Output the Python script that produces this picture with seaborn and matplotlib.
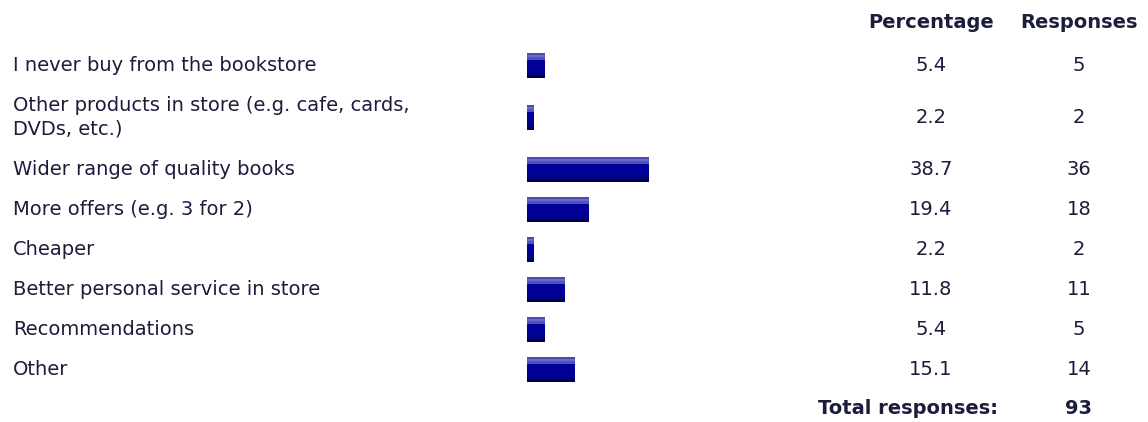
import numpy as np
import pandas as pd
import matplotlib
matplotlib.use("Agg")
import matplotlib.pyplot as plt
from matplotlib.colors import to_rgb
import seaborn as sns

# survey answers
answers = [
    "I never buy from the bookstore",
    "Other products in store (e.g. cafe, cards,\nDVDs, etc.)",
    "Wider range of quality books",
    "More offers (e.g. 3 for 2)",
    "Cheaper",
    "Better personal service in store",
    "Recommendations",
    "Other",
]
percentage = [5.4, 2.2, 38.7, 19.4, 2.2, 11.8, 5.4, 15.1]
responses = [5, 2, 36, 18, 2, 11, 5, 14]
total_responses = 93

W, H = 1148, 422
txt_col = "#1c1c3c"
bar_col = "#000099"

sns.set_style("white")
plt.rcParams["font.family"] = ["DejaVu Sans"]

# row layout (pixels): single-line rows 40 px, two-line rows 64 px
rows_h = [40 + 24 * a.count("\n") for a in answers]
tops = 45.5 + np.concatenate([[0], np.cumsum(rows_h)[:-1]])
centers = tops + np.array(rows_h) / 2

df = pd.DataFrame({"answer": answers, "pct": percentage, "resp": responses, "row": centers})

fig = plt.figure(figsize=(W / 100, H / 100), dpi=100)
fig.patch.set_facecolor("white")

# text layer in pixel coordinates
tx = fig.add_axes([0, 0, 1, 1])
tx.set_xlim(0, W)
tx.set_ylim(H, 0)
tx.axis("off")

# bar layer: 0..100 % spans 315 px starting at x=527
bx = fig.add_axes([527 / W, 0, 315 / W, 1])
sns.barplot(data=df, x="pct", y="row", orient="h", native_scale=True,
            width=25 / 40, color=bar_col, saturation=1, ax=bx)
bx.set_xlim(0, 100)
bx.set_ylim(H, 0)
bx.axis("off")

# glossy gradient like the original bars
shade = ["#4a4ab4"] * 2 + ["#6a6acc"] * 2 + ["#5252b8"] * 3 + [bar_col] * 12 + \
        ["#000088", "#00007a", "#00006c", "#000060", "#000055", "#00004a"]
grad = np.array([to_rgb(c) for c in shade])[:, None, :]
for p in bx.patches:
    bb = p.get_bbox()
    im = bx.imshow(grad, extent=[bb.x0, bb.x1, bb.y1, bb.y0], aspect="auto",
                   interpolation="nearest", zorder=p.get_zorder() + 0.1)
    im.set_clip_path(p)
bx.set_xlim(0, 100)
bx.set_ylim(H, 0)

fs = 14
for _, r in df.iterrows():
    tx.text(13, r["row"], r["answer"], ha="left", va="center", fontsize=fs,
            color=txt_col, linespacing=1.3)
    tx.text(931, r["row"], f"{r['pct']:.1f}", ha="center", va="center",
            fontsize=fs, color=txt_col)
    tx.text(1079, r["row"], f"{r['resp']}", ha="center", va="center",
            fontsize=fs, color=txt_col)

tx.text(931, 22, "Percentage", ha="center", va="center", fontsize=fs,
        fontweight="bold", color=txt_col)
tx.text(1079, 22, "Responses", ha="center", va="center", fontsize=fs,
        fontweight="bold", color=txt_col)
tx.text(998, 409, "Total responses:", ha="right", va="center", fontsize=fs,
        fontweight="bold", color=txt_col)
tx.text(1079, 409, f"{total_responses}", ha="center", va="center", fontsize=fs,
        fontweight="bold", color=txt_col)

fig.savefig("out.png", dpi=100, facecolor="white")
